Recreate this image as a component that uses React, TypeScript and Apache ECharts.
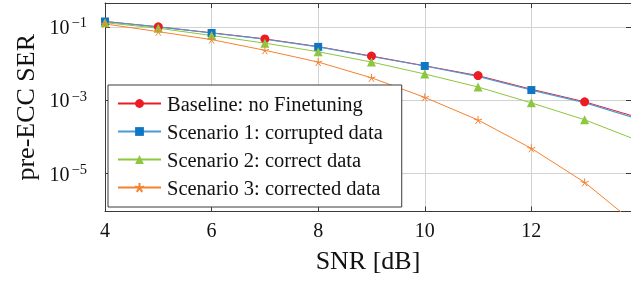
import React, { useEffect, useRef } from 'react';
import * as echarts from 'echarts';

const snr = [4, 5, 6, 7, 8, 9, 10, 11, 12, 13, 14];
const baseline = [0.14, 0.1, 0.069, 0.047, 0.029, 0.016, 0.0087, 0.0047, 0.002, 0.00091, 0.00034];
const scenario1 = [0.14, 0.1, 0.068, 0.046, 0.0285, 0.0156, 0.0086, 0.0045, 0.0019, 0.00086, 0.00031];
const scenario2 = [0.13, 0.092, 0.058, 0.036, 0.021, 0.011, 0.0052, 0.0023, 0.00085, 0.000295, 0.00008];
const scenario3 = [0.12, 0.074, 0.045, 0.023, 0.011, 0.0041, 0.0012, 0.00029, 0.000049, 0.0000058, 0.00000038];
const seriesNames = [
  'Baseline: no Finetuning',
  'Scenario 1: corrupted data',
  'Scenario 2: correct data',
  'Scenario 3: corrected data',
];
const yTicks = [1e-1, 1e-3, 1e-5];

const FONT = "'Liberation Serif', 'Times New Roman', serif";
const RED = '#ed1c24';
const BLUE = '#0e76c4';
const BLUE_LINE = '#4a9ad8';
const GREEN = '#8dc63f';
const ORANGE = '#f5822f';
const AXIS = '#3a3a3a';
const GRID = '#d2d2d2';
const STAR = 'path://M0 0L0 -10M0 0L-9.51 -3.09M0 0L-5.88 8.09M0 0L5.88 8.09M0 0L9.51 -3.09';

function mk(values: number[], marked: (x: number) => boolean) {
  return snr.map((x, i) => (marked(x) ? [x, values[i]] : { value: [x, values[i]], symbol: 'none' }));
}

export default function App() {
  const ref = useRef<HTMLDivElement>(null);
  useEffect(() => {
    const chart = echarts.init(ref.current!, null, { renderer: 'svg' });
    const sup = (v: number) => {
      const e = Math.round(Math.log10(v));
      return `{b|10}{s|\u2212${-e}}`;
    };
    chart.setOption({
      animation: false,
      grid: { left: 105, right: -1, top: 3, bottom: 70.5, containLabel: false },
      xAxis: [
        {
          type: 'value', min: 4, max: 13.87, interval: 2, position: 'bottom',
          axisLine: { show: true, onZero: false, lineStyle: { color: AXIS, width: 1 } },
          axisTick: { show: true, inside: true, length: 5, lineStyle: { color: AXIS } },
          axisLabel: { fontSize: 20, fontFamily: FONT, color: '#111', margin: 8, showMaxLabel: false },
          splitLine: { show: true, lineStyle: { color: GRID, width: 1 } },
          name: 'SNR [dB]', nameLocation: 'middle', nameGap: 36,
          nameTextStyle: { fontSize: 26, fontFamily: FONT, color: '#111' },
        },
        {
          type: 'value', min: 4, max: 13.87, interval: 2, position: 'top',
          axisLine: { show: true, onZero: false, lineStyle: { color: AXIS, width: 1 } },
          axisTick: { show: true, inside: true, length: 5, lineStyle: { color: AXIS } },
          axisLabel: { show: false },
          splitLine: { show: false },
        },
      ],
      yAxis: [
        {
          type: 'log', logBase: 10, min: Math.pow(10, -6.03), max: Math.pow(10, -0.35), position: 'left',
          axisLine: { show: true, onZero: false, lineStyle: { color: AXIS, width: 1 } },
          axisTick: { show: true, inside: true, length: 5, lineStyle: { color: AXIS }, customValues: yTicks },
          axisLabel: {
            customValues: yTicks, margin: 18, formatter: sup,
            rich: {
              b: { fontSize: 20, fontFamily: FONT, color: '#111', lineHeight: 24 },
              s: { fontSize: 14.5, fontFamily: FONT, color: '#111', lineHeight: 14, verticalAlign: 'top', padding: [0, 0, 0, 2] },
            },
          },
          splitLine: { show: true, lineStyle: { color: GRID, width: 1 } },
          minorTick: { show: false },
          name: 'pre-ECC SER', nameLocation: 'middle', nameGap: 66,
          nameTextStyle: { fontSize: 26, fontFamily: FONT, color: '#111' },
        },
        {
          type: 'log', logBase: 10, min: Math.pow(10, -6.03), max: Math.pow(10, -0.35), position: 'right',
          axisLine: { show: false },
          axisTick: { show: true, inside: true, length: 5, lineStyle: { color: AXIS }, customValues: yTicks },
          axisLabel: { show: false },
          splitLine: { show: false },
        },
      ],
      legend: {
        orient: 'vertical', left: 108, top: 85,
        padding: [8, 19, 9, 9],
        itemGap: 7, itemWidth: 43, itemHeight: 11,
        backgroundColor: '#fff', borderColor: AXIS, borderWidth: 1, borderRadius: 0,
        textStyle: { fontSize: 20.5, fontFamily: FONT, color: '#111', padding: [0, 0, 0, 1], lineHeight: 21 },
        data: seriesNames,
      },
      series: [
        {
          name: seriesNames[0], type: 'line', data: mk(baseline, (x) => x % 2 === 1),
          symbol: 'circle', symbolSize: 9, showAllSymbol: true,
          lineStyle: { color: RED, width: 1 }, itemStyle: { color: RED },
        },
        {
          name: seriesNames[1], type: 'line', data: mk(scenario1, (x) => x % 2 === 0),
          symbol: 'rect', symbolSize: 8, showAllSymbol: true,
          lineStyle: { color: BLUE_LINE, width: 1.2 }, itemStyle: { color: BLUE },
        },
        {
          name: seriesNames[2], type: 'line', data: mk(scenario2, () => true),
          symbol: 'triangle', symbolSize: 9, showAllSymbol: true,
          lineStyle: { color: GREEN, width: 1 }, itemStyle: { color: GREEN },
        },
        {
          name: seriesNames[3], type: 'line', data: mk(scenario3, () => true),
          symbol: STAR, symbolSize: 8, showAllSymbol: true,
          lineStyle: { color: ORANGE, width: 1 },
          itemStyle: { color: ORANGE, borderColor: ORANGE, borderWidth: 1 },
        },
      ],
    });
    return () => chart.dispose();
  }, []);
  return <div ref={ref} style={{ position: 'fixed', left: 0, top: 0, width: 631, height: 282 }} />;
}
